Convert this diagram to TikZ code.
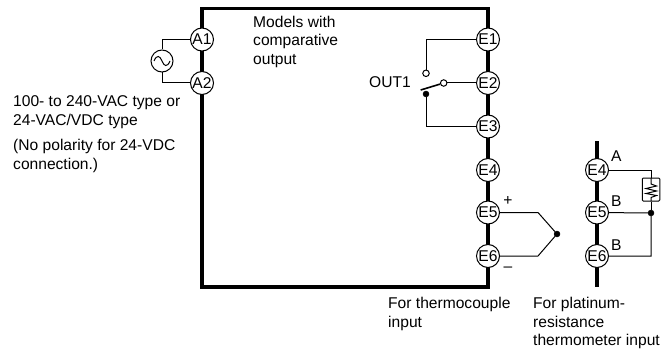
\documentclass[tikz,border=0pt]{standalone}
\usepackage{fontspec}
\setmainfont{Liberation Sans}
\tikzset{
	terminal/.style={draw,circle,fill=white,line width=1pt,minimum size=23pt,inner sep=0pt,font=\fontsize{15.6}{18}\selectfont},
	label/.style={font=\fontsize{15.6}{18.8}\selectfont,align=left,inner sep=0pt,anchor=north west},
	wire/.style={line width=1pt},
	bus/.style={line width=3.6pt},
	contact/.style={draw,circle,fill=white,line width=1pt,minimum size=6.5pt,inner sep=0pt},
	junction/.style={draw,circle,fill=black,minimum size=6pt,inner sep=0pt}
}
\begin{document}
\begin{tikzpicture}[x=1pt,y=-1pt]
	\useasboundingbox (0,0) rectangle (668,350);
	% housing
	\draw[bus] (202,8.7) -- (488,8.7) -- (488,287) -- (202,287) -- cycle;
	\draw[bus] (597,141) -- (597,287);

	% power side
	\node[terminal] (A1) at (202,39.5) {A1};
	\node[terminal] (A2) at (202,83) {A2};
	\node[draw,circle,line width=1pt,minimum size=22pt,inner sep=0pt] (src) at (162,61) {};
	\draw[line width=1pt] (154,61) .. controls (157,54) and (160,56) .. (162,61) .. controls (164,66) and (167,68) .. (170,61);
	\draw[wire] (A1) -| (src);
	\draw[wire] (A2) -| (src);

	% output side
	\foreach \n/\y in {E1/39.5,E2/83,E3/126.5,E4/170,E5/212.5,E6/256}
		\node[terminal] (\n) at (488,\y) {\n};
	\node[contact] (nc) at (426,73.3) {};
	\node[contact] (com) at (443.7,83) {};
	\node[junction] (no) at (426,94) {};
	\coordinate (arm) at (420.7,90);
	\draw[wire] (E1) -| (nc);
	\draw[wire] (com) -- (E2);
	\draw[wire] (E3) -| (no);
	\draw[line width=1.6pt] (arm) -- (com);

	% thermocouple
	\node[junction] (tc) at (557,234) {};
	\coordinate (tcA) at (538,212.5);
	\coordinate (tcB) at (538,256);
	\draw[wire] (E5) -- (tcA) -- (tc) -- (tcB) -- (E6);

	% platinum resistance thermometer
	\foreach \n/\m/\y in {P4/E4/170,P5/E5/212.5,P6/E6/256}
		\node[terminal] (\n) at (597,\y) {\m};
	\node[draw,rounded corners=1pt,line width=1pt,minimum width=17.5pt,minimum height=23pt,inner sep=0pt] (rtd) at (651,189.5) {};
	\draw[line width=1pt] (651,178) -- (651,184) -- (656.5,186) -- (646,188.5) -- (656.5,191) -- (646,193.5) -- (656.5,195.5) -- (651,197.5) -- (651,201);
	\node[junction] (pt) at (651,213) {};
	\coordinate (ptA) at (651,170);
	\coordinate (ptB) at (651,256);
	\draw[wire] (P4) -- (ptA) -- (rtd);
	\draw[wire] (rtd) -- (pt);
	\draw[wire] (P5) -- (pt) -- (ptB) -- (P6);

	% texts
	\node[label] (models) at (253,15.5) {Models with\\comparative\\output};
	\node[label,anchor=base west] (out1) at (369,88) {OUT1};
	\node[label] (supply) at (13,95.4) {100- to 240-VAC type or\\24-VAC/VDC type};
	\node[label] (polar) at (13,139) {(No polarity for 24-VDC\\connection.)};
	\node[label,anchor=center] (plus) at (508,201) {+};
	\node[label,anchor=center] (minus) at (508,269) {--};
	\node[label] (forTC) at (388,296.7) {For thermocouple\\input};
	\node[label] (forPT) at (533,296.7) {For platinum-\\resistance\\thermometer input};
	\node[label] (tA) at (611,151) {A};
	\node[label] (tB1) at (611,196) {B};
	\node[label] (tB2) at (611,240) {B};
\end{tikzpicture}
\end{document}
